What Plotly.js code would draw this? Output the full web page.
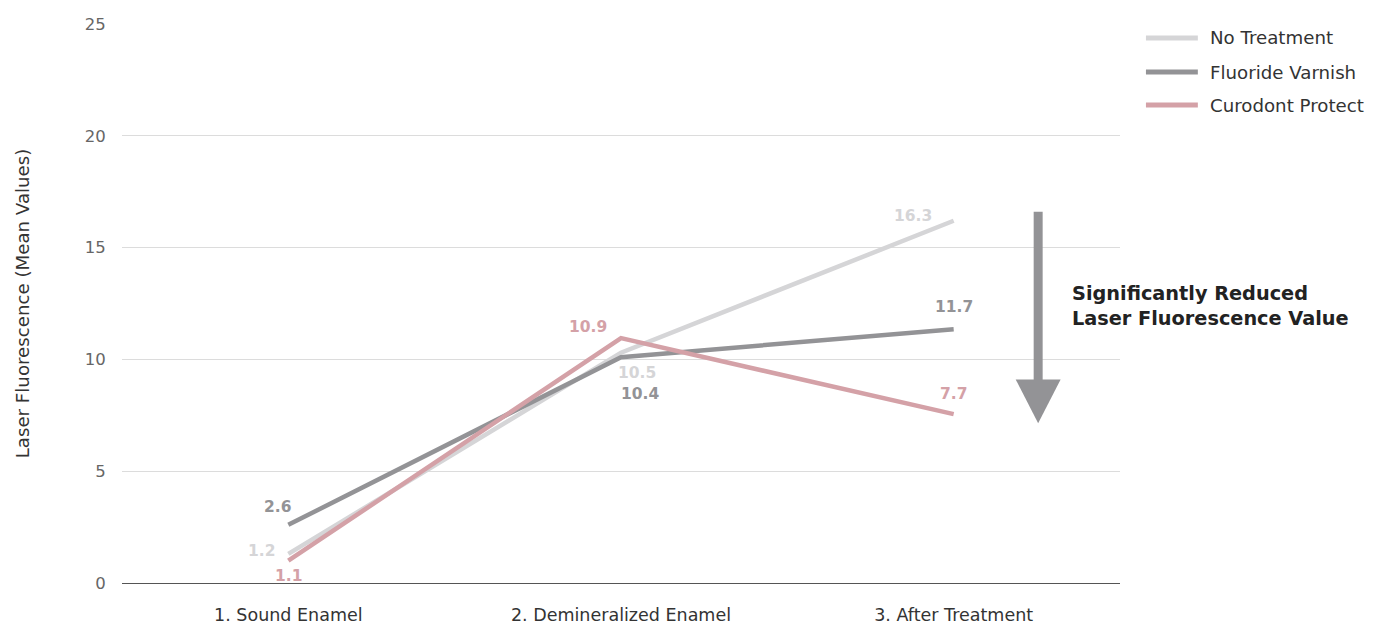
<!DOCTYPE html>
<html>
<head>
<meta charset="utf-8">
<script src="https://cdn.plot.ly/plotly-3.0.1.min.js"></script>
<style>html,body{margin:0;padding:0;background:#fff;}#chart{width:1376px;height:625px;}</style>
</head>
<body>
<div id="chart"></div>
<script>
const categories = ["1. Sound Enamel", "2. Demineralized Enamel", "3. After Treatment"];
const seriesNames = ["No Treatment", "Fluoride Varnish", "Curodont Protect"];
const noTreatment = [1.3, 10.3, 16.2];
const fluorideVarnish = [2.6, 10.1, 11.35];
const curodontProtect = [1.0, 10.95, 7.55];
const noTreatmentLabels = ["1.2", "10.5", "16.3"];
const fluorideVarnishLabels = ["2.6", "10.4", "11.7"];
const curodontProtectLabels = ["1.1", "10.9", "7.7"];
const yTicks = [0, 5, 10, 15, 20, 25];
const calloutText = "Significantly Reduced<br>Laser Fluorescence Value";

const colors = ["#d5d5d7", "#939396", "#d4a1a7"];
const values = [noTreatment, fluorideVarnish, curodontProtect];
const labels = [noTreatmentLabels, fluorideVarnishLabels, curodontProtectLabels];
// label offsets (px) per series per point: [xshift, yshift]
const offsets = [
  [[-27, 3], [16, -20], [-41, 5]],
  [[-11, 18], [19, -37], [0, 22]],
  [[0, -15], [-33, 11], [0, 20]]
];
const FONT = "'DejaVu Sans', sans-serif";

const traces = values.map((v, i) => ({
  type: "scatter", mode: "lines", name: seriesNames[i],
  x: categories, y: v,
  line: {color: colors[i], width: 4.5},
  hoverinfo: "skip", showlegend: false
}));

const annotations = [];
values.forEach((v, i) => {
  v.forEach((val, j) => {
    annotations.push({
      x: categories[j], y: val, xref: "x", yref: "y",
      text: "<b>" + labels[i][j] + "</b>", showarrow: false,
      xshift: offsets[i][j][0], yshift: offsets[i][j][1],
      font: {family: FONT, size: 15.5, color: colors[i]}
    });
  });
});
annotations.push({
  x: 0.9495, xref: "paper", y: 12.4, yref: "y", xanchor: "left", yanchor: "middle",
  text: "<b>" + calloutText + "</b>", showarrow: false, align: "left",
  font: {family: FONT, size: 19.3, color: "#222222"}
});

// custom legend (paper coords)
const legendY = [0.975, 0.914, 0.855];
const shapes = [];
seriesNames.forEach((n, i) => {
  shapes.push({type: "line", xref: "paper", yref: "paper",
    x0: 1.026, x1: 1.078, y0: legendY[i], y1: legendY[i],
    line: {color: colors[i], width: 5}});
  annotations.push({x: 1.088, xref: "paper", y: legendY[i], yref: "paper",
    xanchor: "left", yanchor: "middle", text: n, showarrow: false,
    font: {family: FONT, size: 18.2, color: "#333333"}});
});

shapes.push(
  {type: "rect", xref: "paper", yref: "y", x0: 0.9135, x1: 0.9225, y0: 9.0, y1: 16.6,
   fillcolor: "#939396", line: {width: 0}},
  {type: "path", xref: "paper", yref: "y",
   path: "M 0.8955 9.1 L 0.9405 9.1 L 0.918 7.15 Z",
   fillcolor: "#939396", line: {width: 0}}
);

const layout = {
  width: 1376, height: 625,
  margin: {l: 122, r: 256, t: 24, b: 42},
  paper_bgcolor: "#ffffff", plot_bgcolor: "#ffffff",
  font: {family: FONT, color: "#444444"},
  showlegend: false,
  xaxis: {type: "category", range: [-0.5, 2.5], showgrid: false, zeroline: false,
    showline: false, ticks: "outside", ticklen: 16, tickcolor: "rgba(0,0,0,0)",
    tickfont: {family: FONT, size: 17.5, color: "#333333"}, fixedrange: true},
  yaxis: {range: [0, 25], tickvals: yTicks, ticktext: yTicks.map(String),
    showgrid: true, gridcolor: "#dcdcdc", gridwidth: 1,
    zeroline: true, zerolinecolor: "#555555", zerolinewidth: 1,
    showline: false, ticks: "outside", ticklen: 12, tickcolor: "rgba(0,0,0,0)",
    tickfont: {family: FONT, size: 16.5, color: "#666666"},
    title: {text: "Laser Fluorescence (Mean Values)", standoff: 50,
      font: {family: FONT, size: 18.2, color: "#333333"}}, fixedrange: true},
  annotations: annotations,
  shapes: shapes
};

Plotly.newPlot("chart", traces, layout, {displayModeBar: false, staticPlot: true});
</script>
</body>
</html>
